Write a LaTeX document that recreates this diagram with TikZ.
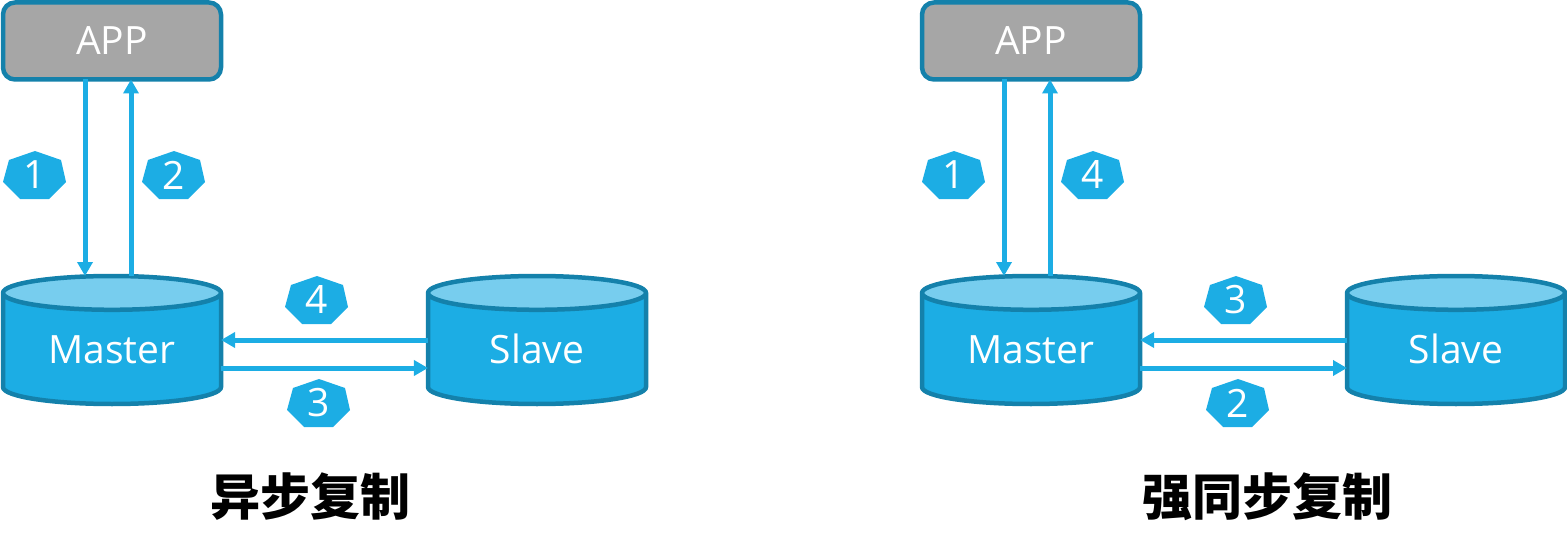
\documentclass[tikz,border=0pt]{standalone}
\usepackage{fontspec}
\setmainfont{Open Sans}
\newfontfamily\cjk{Noto Sans CJK SC}
\usetikzlibrary{arrows.meta,shapes.geometric}
\definecolor{acc}{HTML}{1CADE4}
\definecolor{accdark}{HTML}{1481AB}
\definecolor{acclight}{HTML}{77CDEE}
\definecolor{gfill}{HTML}{A6A6A6}
\tikzset{
  >={Triangle[length=14pt,width=15pt]},
  every node/.style={font=\fontsize{39}{39}\selectfont,text=white},
  appbox/.style={draw=accdark,line width=4.5pt,fill=gfill,rounded corners=12pt,outer sep=0pt,
                 minimum width=218pt,minimum height=77pt},
  dbase/.style={cylinder,shape border rotate=90,draw=accdark,line width=4.5pt,outer sep=0pt,
                anchor=shape center,text width=130pt,text height=28pt,text depth=0pt,align=center,
                cylinder uses custom fill,cylinder body fill=acc,cylinder end fill=acclight,
                minimum width=218pt,minimum height=128pt,aspect=0.26,inner sep=0pt},
  badge/.style={minimum width=64pt,minimum height=48pt,inner sep=0pt,
                path picture={\fill[acc] (path picture bounding box.center) ++(0,24) -- ++(26,-9)
                  -- ++(5,-22) -- ++(-17,-17) -- ++(-29,0) -- ++(-17,17) -- ++(6,22) -- cycle;}},
  head/.style={font=\cjk\bfseries\fontsize{50}{50}\selectfont,text=black},
  flow/.style={->,draw=acc,line width=5pt},
}
\begin{document}
\begin{tikzpicture}[x=1pt,y=1pt]
  \useasboundingbox (0,0) rectangle (1567,-559);

  % left: async
  \node[appbox] (lapp) at (112,-41) {APP};
  \node[dbase] (lmaster) at (112,-340) {Master};
  \node[dbase] (lslave) at (537,-340) {Slave};
  \node[badge] (la) at (35,-175) {1};
  \node[badge] (lb) at (174,-175) {2};
  \node[badge] (lc) at (317,-300) {4};
  \node[badge] (ld) at (319,-403) {3};
  \node[head] (ltitle) at (310.5,-497) {异步复制};

  % right: sync
  \node[appbox] (rapp) at (1031,-41) {APP};
  \node[dbase] (rmaster) at (1031,-340) {Master};
  \node[dbase] (rslave) at (1456,-340) {Slave};
  \node[badge] (ra) at (954,-175) {1};
  \node[badge] (rb) at (1093,-175) {4};
  \node[badge] (rc) at (1236,-300) {3};
  \node[badge] (rd) at (1238,-403) {2};
  \node[head] (rtitle) at (1267,-497) {强同步复制};

  \foreach \i in {l,r}{
    \draw[flow] ([xshift=-27pt]\i app.south) -- ([xshift=-27pt]\i master.north);
    \draw[flow] ([xshift=19pt]\i master.north) -- ([xshift=19pt]\i app.south);
    \draw[flow] (\i slave.west |- \i slave.shape center) -- (\i master.east |- \i master.shape center);
    \draw[flow] ([yshift=-28pt]\i master.east |- \i master.shape center)
      -- ([yshift=-28pt]\i slave.west |- \i slave.shape center);
  }
\end{tikzpicture}
\end{document}
